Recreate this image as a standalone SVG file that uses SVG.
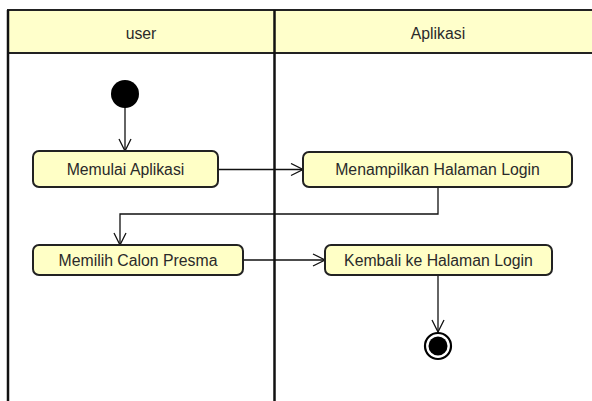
<svg xmlns="http://www.w3.org/2000/svg" width="592" height="401" viewBox="0 0 592 401">
<defs>
<style>
.hdr{fill:#ffffcb;stroke:#222;stroke-width:2}
.lane{stroke:#111;stroke-width:2.5;fill:none}
.act{fill:#ffffc6;stroke:#222;stroke-width:2}
.t{font-family:"Liberation Sans",Arial,sans-serif;font-size:15.8px;fill:#2a2a2a;text-anchor:middle;dominant-baseline:central}
.c{stroke:#111;stroke-width:1.3;fill:none}
</style>
<marker id="ah" viewBox="0 0 14 14" refX="13" refY="7" markerWidth="14" markerHeight="14" markerUnits="userSpaceOnUse" orient="auto">
<path d="M1,1 L13,7 L1,13" fill="none" stroke="#111" stroke-width="1.3"/>
</marker>
</defs>
<rect width="592" height="401" fill="#fff"/>
<g id="lanes">
<rect class="hdr" x="8" y="10" width="590" height="43"/>
<line class="lane" x1="8" y1="10" x2="8" y2="401"/>
<line class="lane" x1="274.5" y1="10" x2="274.5" y2="401"/>
<text class="t" x="141" y="33">user</text>
<text class="t" x="438" y="33">Aplikasi</text>
</g>
<g id="connectors">
<line class="c" x1="125" y1="107" x2="125" y2="151" marker-end="url(#ah)"/>
<line class="c" x1="218" y1="169.5" x2="303" y2="169.5" marker-end="url(#ah)"/>
<polyline class="c" points="438,187 438,214 120,214 120,245" marker-end="url(#ah)"/>
<line class="c" x1="243" y1="260" x2="325" y2="260" marker-end="url(#ah)"/>
<line class="c" x1="438" y1="275" x2="438" y2="332" marker-end="url(#ah)"/>
</g>
<g id="start">
<circle cx="125" cy="94" r="14" fill="#000"/>
</g>
<g id="memulai">
<rect class="act" x="33" y="151" width="185" height="36" rx="6"/>
<text class="t" x="125.5" y="169.5">Memulai Aplikasi</text>
</g>
<g id="menampilkan">
<rect class="act" x="303" y="152" width="269" height="35" rx="6"/>
<text class="t" x="437.5" y="169.5">Menampilkan Halaman Login</text>
</g>
<g id="memilih">
<rect class="act" x="33" y="245" width="210" height="30" rx="6"/>
<text class="t" x="138" y="260">Memilih Calon Presma</text>
</g>
<g id="kembali">
<rect class="act" x="325" y="245" width="227" height="30" rx="6"/>
<text class="t" x="438.5" y="260">Kembali ke Halaman Login</text>
</g>
<g id="end">
<circle cx="438" cy="346" r="13" fill="#fff" stroke="#000" stroke-width="2.2"/>
<circle cx="438" cy="346" r="9.5" fill="#000"/>
</g>
</svg>
